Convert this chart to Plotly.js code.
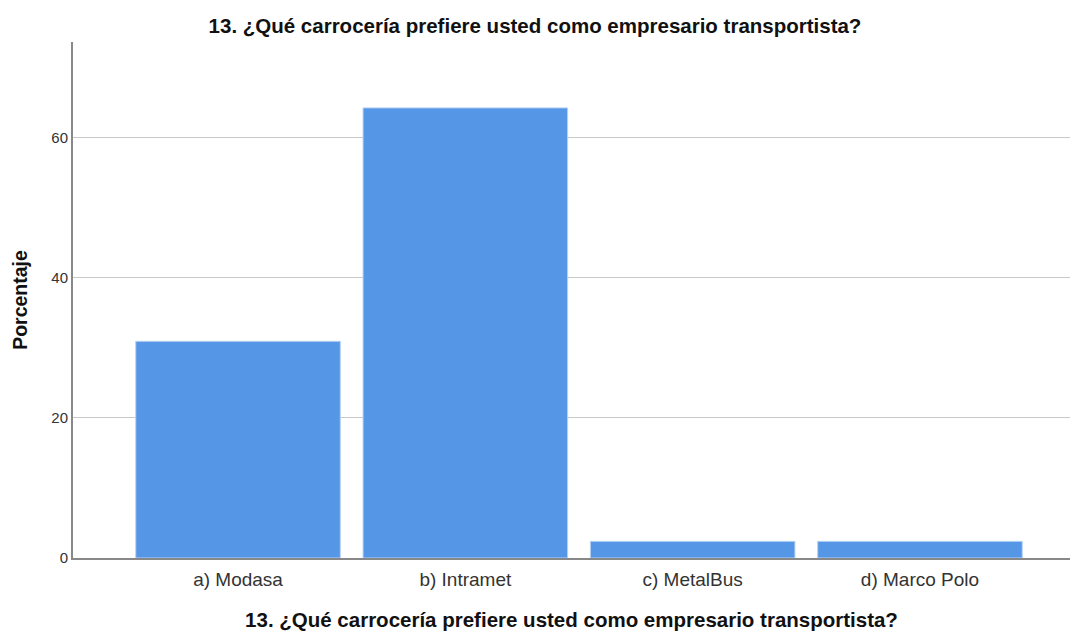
<!DOCTYPE html>
<html>
<head>
<meta charset="utf-8">
<script src="https://cdn.plot.ly/plotly-3.0.1.min.js"></script>
<style>html,body{margin:0;padding:0;background:#fff;}#chart{width:1070px;height:631px;}</style>
</head>
<body>
<div id="chart"></div>
<script>
const categories = ["a) Modasa", "b) Intramet", "c) MetalBus", "d) Marco Polo"];
const percentages = [30.95, 64.29, 2.38, 2.38];
const yTickValues = [0, 20, 40, 60];
const titleText = "13. ¿Qué carrocería prefiere usted como empresario transportista?";
const yTitleText = "Porcentaje";

const trace = {
  type: "bar",
  x: [0, 1, 2, 3],
  y: percentages,
  width: 0.9,
  marker: {color: "#5596e6", line: {color: "#b9d3f3", width: 1}},
  hoverinfo: "none"
};

const layout = {
  width: 1070, height: 631,
  margin: {l: 73, r: 0, t: 42, b: 73},
  paper_bgcolor: "#fff", plot_bgcolor: "#fff",
  font: {family: "Liberation Sans, Arial, sans-serif", color: "#222"},
  showlegend: false,
  title: {text: "<b>" + titleText + "</b>", font: {size: 20.5, color: "#111"}, x: 0.5, xanchor: "center", y: 1 - 26/631, yanchor: "middle", yref: "container"},
  xaxis: {
    range: [-0.726, 3.66],
    tickmode: "array", tickvals: [0, 1, 2, 3], ticktext: categories,
    tickfont: {size: 19, color: "#333"},
    ticklabelstandoff: 3,
    showgrid: false, zeroline: false,
    showline: true, linecolor: "#888", linewidth: 2,
    ticks: "", ticklen: 0,
    title: {text: "<b>" + titleText + "</b>", font: {size: 20.5, color: "#111"}, standoff: 24}
  },
  yaxis: {
    range: [0, 73.7],
    tickmode: "array", tickvals: yTickValues,
    tickfont: {size: 15, color: "#333"},
    showgrid: true, gridcolor: "#c8c8c8", gridwidth: 1,
    zeroline: false,
    showline: true, linecolor: "#888", linewidth: 2,
    ticks: "", ticklen: 0,
    title: {text: "<b>" + yTitleText + "</b>", font: {size: 19.5, color: "#111"}, standoff: 18}
  },
  bargap: 0.1
};

Plotly.newPlot("chart", [trace], layout, {displayModeBar: false, staticPlot: true});
</script>
</body>
</html>
